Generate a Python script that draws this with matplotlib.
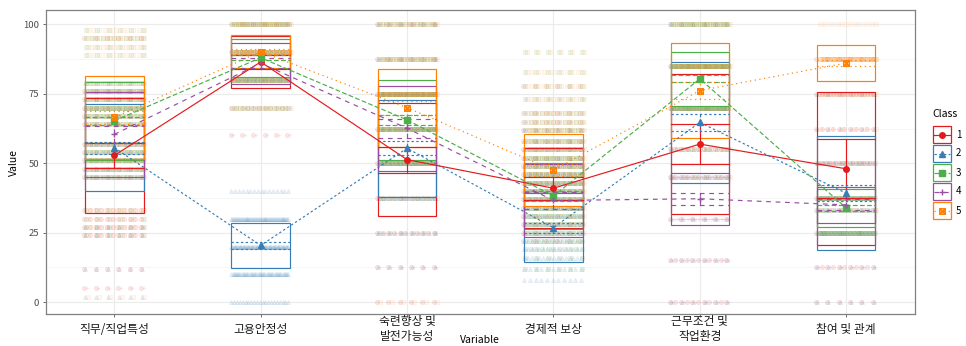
import matplotlib.pyplot as plt
import numpy as np
from matplotlib.path import Path
from matplotlib.patches import Rectangle

plt.rcParams['font.family'] = ['Noto Sans CJK KR', 'DejaVu Sans']

variables = ["직무/직업특성", "고용안정성", "숙련향상 및\n발전가능성",
             "경제적 보상", "근무조건 및\n작업환경", "참여 및 관계"]
class_labels = ["1", "2", "3", "4", "5"]
class_colors = ["#E41A1C", "#377EB8", "#4DAF4A", "#984EA3", "#FF7F00"]

# profile means per class
mean_c1 = [52.8, 86.5, 51.3, 41.0, 56.9, 48.0]
mean_c2 = [55.6, 20.4, 55.4, 26.8, 64.7, 39.2]
mean_c3 = [65.3, 88.0, 65.6, 38.2, 80.4, 33.9]
mean_c4 = [60.4, 86.0, 62.6, 36.6, 37.2, 35.0]
mean_c5 = [66.5, 90.2, 70.0, 47.5, 76.2, 86.1]

# standard deviations (boxes)
sd_c1 = [20.6, 9.3, 20.3, 14.4, 25.3, 27.6]
sd_c2 = [15.6, 8.2, 17.5, 12.5, 21.8, 20.6]
sd_c3 = [14.0, 6.8, 14.4, 12.0, 9.6, 7.0]
sd_c4 = [15.4, 7.4, 15.4, 13.3, 9.4, 6.5]
sd_c5 = [15.0, 6.0, 14.0, 12.9, 17.0, 6.6]

# confidence interval half-widths (error bars)
ci_c1 = [4.6, 2.5, 4.7, 4.2, 7.2, 10.6]
ci_c2 = [2.2, 1.2, 2.5, 1.8, 3.0, 2.8]
ci_c3 = [1.5, 0.9, 1.9, 1.7, 1.3, 1.0]
ci_c4 = [3.0, 1.8, 3.5, 3.0, 2.2, 2.0]
ci_c5 = [2.5, 1.0, 2.5, 2.2, 3.0, 1.2]

# raw observations: score levels and number of points per class [1..5]
raw_levels_v1 = [98, 95, 92, 89, 79, 76, 73, 70, 67, 64, 57, 54, 51, 48, 45, 33, 30, 27, 24, 12, 5, 2]
raw_counts_v1 = [[0, 0, 1, 0, 2], [1, 0, 2, 0, 3], [0, 0, 1, 0, 3], [0, 0, 1, 0, 2],
                 [0, 1, 3, 1, 3], [1, 1, 6, 2, 4], [1, 1, 5, 2, 4], [1, 2, 7, 2, 4],
                 [1, 1, 5, 1, 3], [1, 1, 4, 2, 2], [2, 2, 4, 2, 2], [1, 2, 5, 2, 2],
                 [2, 2, 6, 2, 3], [1, 2, 5, 2, 2], [1, 2, 4, 3, 2], [2, 0, 1, 0, 2],
                 [2, 0, 1, 0, 1], [2, 1, 1, 1, 2], [2, 1, 1, 0, 1], [1, 1, 0, 0, 0],
                 [1, 0, 0, 1, 0], [0, 1, 0, 0, 1]]
raw_levels_v2 = [100, 90, 80, 70, 60, 40, 30, 20, 10, 0]
raw_counts_v2 = [[1, 0, 6, 3, 6], [2, 0, 6, 3, 12], [3, 0, 10, 4, 3], [2, 0, 3, 1, 2],
                 [1, 0, 0, 1, 0], [0, 3, 0, 0, 0], [0, 12, 0, 0, 0], [0, 14, 0, 0, 0],
                 [0, 10, 0, 0, 0], [0, 4, 0, 0, 0]]
raw_levels_v3 = [100, 87.5, 75, 62.5, 50, 37.5, 25, 12.5, 0]
raw_counts_v3 = [[1, 1, 3, 2, 4], [1, 1, 4, 2, 5], [2, 2, 10, 4, 12], [2, 2, 10, 6, 4],
                 [3, 3, 10, 4, 2], [2, 4, 2, 2, 1], [2, 2, 1, 1, 0], [1, 1, 0, 1, 0],
                 [1, 0, 0, 0, 1]]
raw_levels_v4 = [90, 83, 78, 73, 68, 65, 62, 58, 55, 52, 49, 46, 43, 40, 37, 34, 31, 28,
                 25, 22, 19, 16, 12, 8]
raw_counts_v4 = [[0, 0, 1, 0, 1], [0, 0, 1, 0, 2], [1, 0, 1, 0, 2], [0, 0, 1, 1, 3],
                 [1, 0, 2, 1, 3], [1, 0, 2, 1, 3], [1, 1, 3, 1, 4], [1, 1, 4, 2, 4],
                 [2, 1, 5, 2, 4], [1, 1, 6, 2, 3], [2, 1, 6, 2, 3], [2, 2, 6, 3, 3],
                 [2, 2, 7, 3, 2], [2, 2, 7, 3, 2], [2, 2, 7, 4, 2], [1, 3, 6, 4, 1],
                 [1, 3, 5, 3, 1], [1, 3, 5, 3, 1], [1, 3, 4, 3, 1], [1, 3, 3, 2, 0],
                 [0, 3, 2, 2, 0], [0, 3, 1, 1, 0], [0, 2, 1, 1, 0], [0, 2, 0, 0, 0]]
raw_levels_v5 = [100, 85, 70, 55, 45, 30, 15, 0]
raw_counts_v5 = [[1, 1, 6, 0, 4], [2, 2, 12, 1, 10], [3, 3, 12, 1, 4], [2, 2, 2, 1, 2],
                 [2, 3, 1, 6, 1], [1, 1, 0, 8, 0], [2, 1, 0, 3, 0], [2, 1, 0, 1, 0]]
raw_levels_v6 = [100, 87.5, 75, 62.5, 50, 37.5, 33.3, 25, 12.5, 0]
raw_counts_v6 = [[0, 0, 0, 0, 2], [1, 0, 0, 0, 14], [4, 1, 0, 0, 4], [2, 1, 0, 0, 1],
                 [4, 2, 2, 1, 0], [3, 4, 10, 6, 0], [1, 2, 3, 5, 1], [3, 3, 12, 3, 0],
                 [2, 1, 0, 1, 0], [1, 1, 0, 0, 0]]

means = [mean_c1, mean_c2, mean_c3, mean_c4, mean_c5]
sds = [sd_c1, sd_c2, sd_c3, sd_c4, sd_c5]
cis = [ci_c1, ci_c2, ci_c3, ci_c4, ci_c5]
raw_levels = [raw_levels_v1, raw_levels_v2, raw_levels_v3, raw_levels_v4, raw_levels_v5, raw_levels_v6]
raw_counts = [raw_counts_v1, raw_counts_v2, raw_counts_v3, raw_counts_v4, raw_counts_v5, raw_counts_v6]

# square with a cross, like ggplot shape 7
sq_x = Path([(-1, -1), (1, -1), (1, 1), (-1, 1), (-1, -1), (-1, -1), (1, 1), (-1, 1), (1, -1)],
            [Path.MOVETO, Path.LINETO, Path.LINETO, Path.LINETO, Path.CLOSEPOLY,
             Path.MOVETO, Path.LINETO, Path.MOVETO, Path.LINETO])
markers = ['o', '^', 's', '+', sq_x]
line_styles = ['-', (0, (2, 2)), (0, (4, 2)), (0, (4, 4)), (0, (1, 3))]
half_w = 0.2
lw = 0.85

fig = plt.figure(figsize=(9.66, 3.46), dpi=100)
ax = fig.add_axes([45.5 / 966, 1 - 314 / 346, (915 - 45.5) / 966, 304 / 346])
xs = np.arange(len(variables))

# raw data, spread across the box width
for v in range(len(variables)):
    for level, counts in zip(raw_levels[v], raw_counts[v]):
        for k, n in enumerate(counts):
            if n == 0:
                continue
            px = v + np.linspace(-half_w * 0.97, half_w * 0.97, n * 5 + 1) + (k - 2) * 0.006
            filled = k < 3
            ax.plot(px, np.full(px.size, level), ls='none', marker=markers[k], ms=3.0,
                    mew=0.6, color=class_colors[k], alpha=0.1,
                    mfc=class_colors[k] if filled else 'none', zorder=1)

# boxes: mean +/- sd
for k in range(5):
    for v in range(len(variables)):
        m, s = means[k][v], sds[k][v]
        ax.add_patch(Rectangle((v - half_w, m - s), 2 * half_w, 2 * s, fill=False,
                               edgecolor=class_colors[k], lw=lw, zorder=2))

# error bars for the confidence intervals
for k in range(5):
    for v in range(len(variables)):
        m, c = means[k][v], cis[k][v]
        for yv in (m - c, m + c):
            ax.plot([v - half_w, v + half_w], [yv, yv], color=class_colors[k],
                    ls=line_styles[k], lw=lw, zorder=3)
        ax.plot([v, v], [m - c, m + c], color=class_colors[k], ls=line_styles[k], lw=lw, zorder=3)

# profile lines and mean markers
for k in range(5):
    ax.plot(xs, means[k], color=class_colors[k], ls=line_styles[k], lw=lw, zorder=4)
    filled = k < 3
    ax.plot(xs, means[k], ls='none', marker=markers[k], ms=4.0, mew=1.0,
            color=class_colors[k], mfc=class_colors[k] if filled else 'none', zorder=5)

ax.set_xlim(-0.47, 5.47)
ax.set_ylim(-4.3, 105.2)
ax.set_yticks([0, 25, 50, 75, 100])
ax.set_yticks([12.5, 37.5, 62.5, 87.5], minor=True)
ax.set_xticks(xs)
ax.set_xticklabels([])
ax.grid(True, which='major', color='#EBEBEB', lw=0.8, zorder=0)
ax.grid(True, which='minor', axis='y', color='#F3F3F3', lw=0.5, zorder=0)
ax.set_axisbelow(True)
ax.tick_params(axis='both', which='major', length=2.5, width=0.6, color='#555555',
               labelsize=6.8, labelcolor='#4D4D4D', pad=2)
ax.tick_params(axis='y', which='minor', length=0)
for sp in ax.spines.values():
    sp.set_color('#808080')
    sp.set_linewidth(0.9)

for v, name in enumerate(variables):
    ax.text(v, -0.05, name, transform=ax.get_xaxis_transform(), ha='center', va='center',
            fontsize=8.5, color='#1A1A1A', linespacing=1.15)

fig.text(480 / 966, 1 - 340 / 346, "Variable", ha='center', va='center', fontsize=7.5)
fig.text(14 / 966, 1 - 162 / 346, "Value", ha='center', va='center', rotation=90, fontsize=7.5)

# legend drawn in pixel space
lax = fig.add_axes([0, 0, 1, 1])
lax.set_xlim(0, 966)
lax.set_ylim(346, 0)
lax.axis('off')
lax.text(932, 114, "Class", ha='left', va='center', fontsize=7.5)
for k in range(5):
    cy = 134.5 + k * 19
    lax.add_patch(Rectangle((933, cy - 8.5), 17.5, 17, fill=False,
                            edgecolor=class_colors[k], lw=0.9))
    lax.plot([934, 949.5], [cy, cy], color=class_colors[k], ls=line_styles[k], lw=lw)
    lax.plot([941.7], [cy], ls='none', marker=markers[k], ms=4.0, mew=1.0,
             color=class_colors[k], mfc=class_colors[k] if k < 3 else 'none')
    lax.text(956, cy, class_labels[k], ha='left', va='center', fontsize=7)

fig.savefig("out.png", dpi=100)
